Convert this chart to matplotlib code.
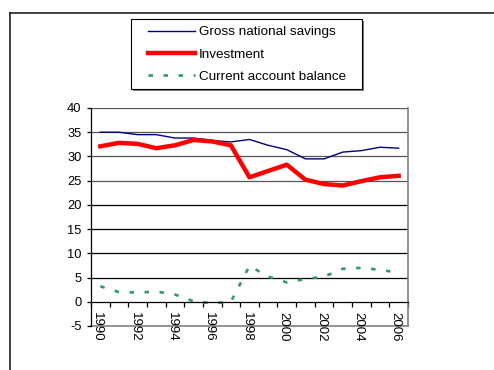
import matplotlib.pyplot as plt
import matplotlib.transforms as mtransforms
from matplotlib.lines import Line2D
from matplotlib.patches import Rectangle

plt.rcParams['font.family'] = ['Liberation Sans', 'DejaVu Sans']
plt.rcParams['axes.unicode_minus'] = False

# data
years = list(range(1990, 2007))
savings = [35.0, 35.0, 34.5, 34.5, 33.8, 33.8, 33.3, 33.0, 33.5, 32.3,
           31.4, 29.5, 29.5, 30.9, 31.2, 31.9, 31.7]
investment = [32.1, 32.8, 32.6, 31.7, 32.3, 33.4, 33.1, 32.3, 25.7, 27.0,
              28.3, 25.2, 24.3, 24.0, 24.9, 25.7, 26.0]
current_account = [3.2, 2.0, 1.9, 2.1, 1.5, 0.1, -0.3, 0.0, 7.4, 5.2,
                    4.0, 4.7, 5.2, 6.8, 7.0, 6.6, 6.0]

W, H = 494, 370
fig = plt.figure(figsize=(W / 100, H / 100), dpi=100)
ax = fig.add_axes([91 / W, 1 - 326 / H, (408 - 91) / W, (326 - 108) / H])

x = list(range(len(years)))
l1, = ax.plot(x, savings, color='#000080', lw=1.0, label='Gross national savings')
l2, = ax.plot(x, investment, color='#ff0000', lw=3.2, label='Investment',
              solid_joinstyle='round')
l3, = ax.plot(x, current_account, color='#339966', lw=1.9,
              linestyle=(0, (1.7, 4.0)), dash_capstyle='butt',
              label='Current account balance')

ax.set_xlim(-0.5, len(years) - 0.5)
ax.set_ylim(-5, 40)
ax.set_yticks(range(-5, 41, 5))
for v in range(5, 41, 5):
    ax.axhline(v, color='#000000' if v < 25 else '#555555', lw=0.9, zorder=0)

ax.spines['bottom'].set_position(('data', 0))
ax.spines['bottom'].set_color('black')
ax.spines['bottom'].set_linewidth(0.9)
ax.spines['left'].set_color('black')
ax.spines['left'].set_linewidth(0.9)
ax.spines['top'].set_visible(False)
ax.spines['right'].set_color('#808080')
ax.spines['right'].set_linewidth(1.2)
ax.axhline(-5, color='#808080', lw=1.2, zorder=0, clip_on=False)

ax.set_xticks(x[::2])
ax.set_xticklabels([str(y) for y in years[::2]], rotation=270)
ax.set_xticks([i - 0.5 for i in range(len(years) + 1)], minor=True)
ax.tick_params(axis='x', which='major', length=0, pad=7.5, labelsize=9.5)
ax.tick_params(axis='x', which='minor', length=3.6, direction='out', width=0.9)
ax.tick_params(axis='y', length=2.8, width=0.9, pad=4, labelsize=9.3)
shift = mtransforms.ScaledTranslation(-3 / 100, 0, fig.dpi_scale_trans)
for lab in ax.get_xticklabels():
    lab.set_transform(lab.get_transform() + shift)

# legend box drawn by hand (wider on the right than matplotlib pads it)
bx0, by0, bx1, by1 = 131, 19, 362, 89
fig.add_artist(Rectangle(((bx0 + 2) / W, 1 - (by1 + 2) / H), (bx1 - bx0) / W,
                         (by1 - by0) / H, transform=fig.transFigure,
                         facecolor='#808080', edgecolor='none'))
fig.add_artist(Rectangle((bx0 / W, 1 - by1 / H), (bx1 - bx0) / W,
                         (by1 - by0) / H, transform=fig.transFigure,
                         facecolor='white', edgecolor='black', lw=0.8))
leg = fig.legend(handles=[l1, l2, l3], loc='upper left',
                 bbox_to_anchor=(148 / W, 1 - 26 / H), fontsize=9.7,
                 frameon=False, handlelength=3.5, handletextpad=0.3,
                 labelspacing=0.72, borderpad=0, borderaxespad=0)

# outer chart frame (only top and left edge visible)
fig.add_artist(Line2D([10 / W, 1], [1 - 13 / H, 1 - 13 / H], color='#222222', lw=1.2))
fig.add_artist(Line2D([10 / W, 10 / W], [0, 1 - 13 / H], color='#222222', lw=1.2))

fig.savefig('out.png', dpi=100)
